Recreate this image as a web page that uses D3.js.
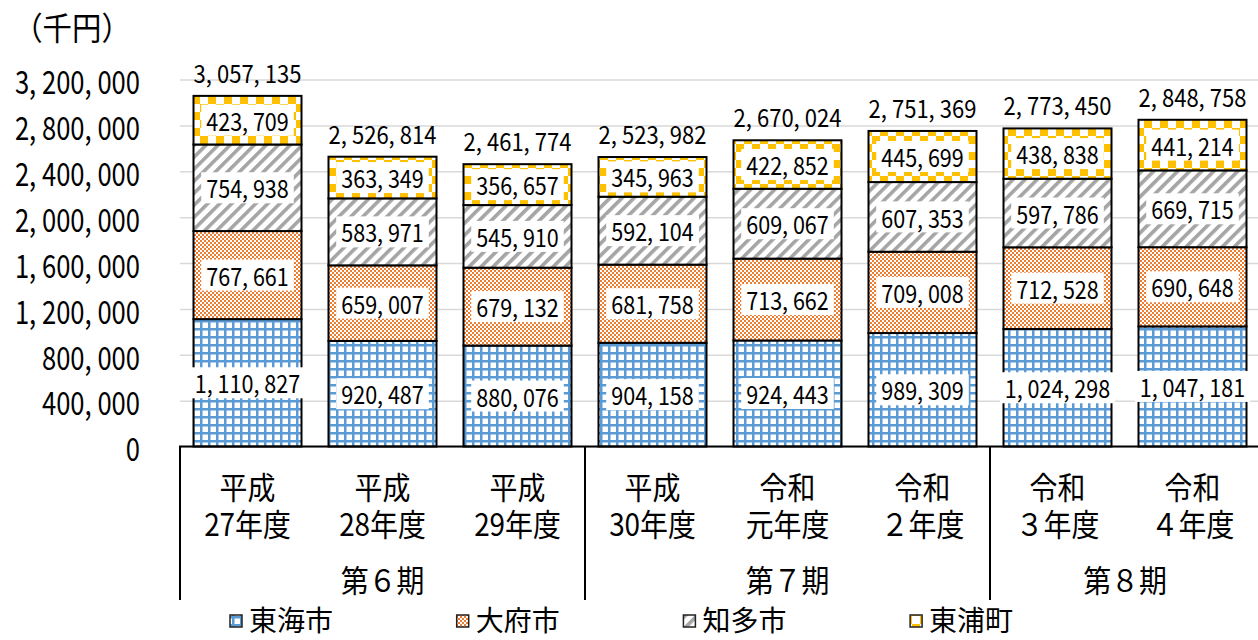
<!DOCTYPE html>
<html>
<head>
<meta charset="utf-8">
<script src="https://cdn.jsdelivr.net/npm/d3@7"></script>
<style>
  body { margin: 0; background: #fff; }
  svg { display: block; }
  text { font-family: "Noto Sans CJK JP", "Noto Sans", sans-serif; fill: #000; }
</style>
</head>
<body>
<svg id="chart" width="1258" height="640"></svg>
<script>
// ---- data ----
const eraLabels  = ["平成", "平成", "平成", "平成", "令和", "令和", "令和", "令和"];
const yearLabels = ["27年度", "28年度", "29年度", "30年度", "元年度", "２年度", "３年度", "４年度"];
const periodLabels = ["第６期", "第７期", "第８期"];
const periodSizes  = [3, 3, 2];

const seriesNames = ["東海市", "大府市", "知多市", "東浦町"];
const tokai      = [1110827, 920487, 880076, 904158, 924443, 989309, 1024298, 1047181];
const obu        = [767661, 659007, 679132, 681758, 713662, 709008, 712528, 690648];
const chita      = [754938, 583971, 545910, 592104, 609067, 607353, 597786, 669715];
const higashiura = [423709, 363349, 356657, 345963, 422852, 445699, 438838, 441214];
const totals     = [3057135, 2526814, 2461774, 2523982, 2670024, 2751369, 2773450, 2848758];

const yTicks = [0, 400000, 800000, 1200000, 1600000, 2000000, 2400000, 2800000, 3200000];
const unitLabel = "（千円）";

// ---- setup ----
const svg = d3.select("#chart");
const W = 1258;
const plotLeft = 180, plotRight = 1260, plotTop = 79.5, plotBottom = 446.5, boxBottom = 600;

const seriesValues = [tokai, obu, chita, higashiura];
const rows = eraLabels.map((_, i) => {
  const r = { i };
  seriesNames.forEach((s, k) => r[s] = seriesValues[k][i]);
  return r;
});
const stacked = d3.stack().keys(seriesNames)(rows);

const x = d3.scaleBand().domain(d3.range(eraLabels.length))
  .range([plotLeft, plotRight]).paddingInner(0.2).paddingOuter(0.1);
const y = d3.scaleLinear().domain([0, 3200000]).range([plotBottom, plotTop]);

const fmt = v => d3.format(",")(v).replace(/,/g, ", ");

// ---- fill patterns ----
const defs = svg.append("defs");
const pBlue = defs.append("pattern").attr("id", "p-tokai")
  .attr("patternUnits", "userSpaceOnUse").attr("width", 8).attr("height", 8);
pBlue.append("rect").attr("width", 8).attr("height", 8).attr("fill", "#fff");
pBlue.append("rect").attr("width", 8).attr("height", 2.5).attr("fill", "#5B9BD5");
pBlue.append("rect").attr("width", 2.5).attr("height", 8).attr("fill", "#5B9BD5");

const pOrange = defs.append("pattern").attr("id", "p-obu")
  .attr("patternUnits", "userSpaceOnUse").attr("width", 4).attr("height", 4);
pOrange.append("rect").attr("width", 4).attr("height", 4).attr("fill", "#fff");
pOrange.append("rect").attr("width", 2).attr("height", 2).attr("fill", "#ED7D31");
pOrange.append("rect").attr("x", 2).attr("y", 2).attr("width", 2).attr("height", 2).attr("fill", "#ED7D31");

const pGray = defs.append("pattern").attr("id", "p-chita")
  .attr("patternUnits", "userSpaceOnUse").attr("width", 8.5).attr("height", 8.5)
  .attr("patternTransform", "rotate(45)");
pGray.append("rect").attr("width", 8.5).attr("height", 8.5).attr("fill", "#fff");
pGray.append("rect").attr("width", 3.6).attr("height", 8.5).attr("fill", "#A5A5A5");

const pGold = defs.append("pattern").attr("id", "p-higashiura")
  .attr("patternUnits", "userSpaceOnUse").attr("width", 16).attr("height", 16);
pGold.append("rect").attr("width", 16).attr("height", 16).attr("fill", "#fff");
pGold.append("rect").attr("width", 8).attr("height", 8).attr("fill", "#FFC000");
pGold.append("rect").attr("x", 8).attr("y", 8).attr("width", 8).attr("height", 8).attr("fill", "#FFC000");

const fills = ["url(#p-tokai)", "url(#p-obu)", "url(#p-chita)", "url(#p-higashiura)"];

// text placed in a horizontally condensed group
function label(parent, cx, cy, str, size, sx, anchor) {
  const g = parent.append("g").attr("transform", `translate(${cx},${cy}) scale(${sx},1)`);
  const t = g.append("text").attr("text-anchor", anchor || "middle")
    .attr("dominant-baseline", "central").attr("font-size", size).text(str);
  return { g, t };
}

// ---- y axis with gridlines ----
const yAxis = svg.append("g").attr("transform", `translate(${plotLeft},0)`)
  .call(d3.axisLeft(y).tickValues(yTicks).tickFormat(fmt)
    .tickSize(-(W - plotLeft)).tickPadding(0))
  .attr("font-family", null).attr("font-size", null);
yAxis.select(".domain").remove();
yAxis.selectAll(".tick line").attr("stroke", "#d9d9d9").attr("stroke-width", 1.5);
const tickSx = 0.8;
yAxis.selectAll(".tick text")
  .attr("x", -40 / tickSx).attr("dy", null)
  .attr("dominant-baseline", "central")
  .attr("transform", `scale(${tickSx},1)`)
  .attr("font-size", 32).attr("fill", "#000");

// ---- bars ----
const layers = svg.append("g").selectAll("g").data(stacked).join("g")
  .attr("fill", (d, k) => fills[k]);
layers.selectAll("rect").data(d => d).join("rect")
  .attr("x", (d, i) => x(i))
  .attr("width", x.bandwidth())
  .attr("y", d => y(d[1]))
  .attr("height", d => y(d[0]) - y(d[1]))
  .attr("stroke", "#000").attr("stroke-width", 2);

// ---- segment value labels (white boxes) ----
const valSx = 0.88, valSize = 24.5;
const labelLayer = svg.append("g");
stacked.forEach(layer => {
  layer.forEach((d, i) => {
    const cx = x(i) + x.bandwidth() / 2;
    const cy = (y(d[0]) + y(d[1])) / 2;
    const { g, t } = label(labelLayer, cx, cy, fmt(d[1] - d[0]), valSize, valSx);
    const bb = t.node().getBBox();
    const padX = 5 / valSx;
    g.insert("rect", "text")
      .attr("x", bb.x - padX).attr("width", bb.width + 2 * padX)
      .attr("y", -15.5).attr("height", 31).attr("fill", "#fff");
  });
});

// ---- totals above bars ----
totals.forEach((v, i) => {
  label(svg, x(i) + x.bandwidth() / 2, y(v) - 23.5, fmt(v), valSize, 0.9);
});

// ---- unit label ----
label(svg, 72, 26, unitLabel, 32, 0.92);

// ---- category axis box ----
const axisG = svg.append("g").attr("stroke", "#000").attr("stroke-width", 2);
axisG.append("line").attr("x1", plotLeft - 1).attr("x2", W)
  .attr("y1", plotBottom).attr("y2", plotBottom);
const bounds = [0];
periodSizes.forEach(n => bounds.push(bounds[bounds.length - 1] + n));
bounds.forEach(b => {
  const bx = plotLeft + b * x.step();
  axisG.append("line").attr("x1", bx).attr("x2", bx)
    .attr("y1", plotBottom).attr("y2", boxBottom);
});

// two-line category labels: era on the first line, fiscal year on the second
const catSize = 31, catSx = 0.9;
eraLabels.forEach((era, i) => {
  const cx = x(i) + x.bandwidth() / 2;
  const g = svg.append("g").attr("transform", `translate(${cx},485) scale(${catSx},1)`);
  const t = g.append("text").attr("text-anchor", "middle")
    .attr("dominant-baseline", "central").attr("font-size", catSize);
  t.append("tspan").attr("x", 0).attr("y", 0).text(era);
  t.append("tspan").attr("x", 0).attr("y", 37).text(yearLabels[i]);
});
periodLabels.forEach((p, k) => {
  const cx = plotLeft + (bounds[k] + bounds[k + 1]) / 2 * x.step();
  label(svg, cx, 578, p, catSize, catSx);
});

// ---- legend ----
const legendLeft = 230, legendStep = 226.7, legendY = 619;
seriesNames.forEach((name, k) => {
  const lx = legendLeft + k * legendStep;
  svg.append("rect").attr("x", lx).attr("y", legendY - 4).attr("width", 12).attr("height", 12)
    .attr("fill", fills[k]).attr("stroke", "#222").attr("stroke-width", 1.5);
  label(svg, lx + 19, legendY, name, 28, 1.0, "start");
});
</script>
</body>
</html>
